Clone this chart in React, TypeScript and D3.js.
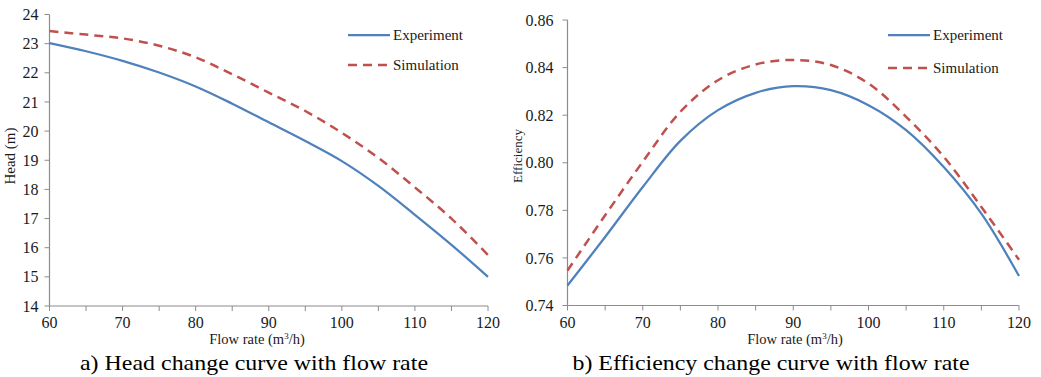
import React from "react";
import * as d3 from "d3";

const flow = [60, 65, 70, 75, 80, 85, 90, 95, 100, 105, 110, 115, 120];
const headExp = [23.02, 22.74, 22.41, 22.01, 21.53, 20.94, 20.3, 19.66, 18.97, 18.12, 17.13, 16.1, 15.0];
const headSim = [23.43, 23.31, 23.18, 22.93, 22.53, 21.95, 21.32, 20.69, 19.94, 19.08, 18.07, 17.0, 15.75];
const effExp = [0.7484, 0.7688, 0.7898, 0.8092, 0.8221, 0.8294, 0.8322, 0.8305, 0.8242, 0.8137, 0.7982, 0.7786, 0.7524];
const effSim = [0.7547, 0.7779, 0.8004, 0.8214, 0.8347, 0.8413, 0.8432, 0.8411, 0.8333, 0.8193, 0.8025, 0.7814, 0.7592];

const xTickLabels = [60, 70, 80, 90, 100, 110, 120];
const xMinorTicks = [60, 65, 70, 75, 80, 85, 90, 95, 100, 105, 110, 115, 120];
const headTicks = [14, 15, 16, 17, 18, 19, 20, 21, 22, 23, 24];
const effTicks = [0.74, 0.76, 0.78, 0.8, 0.82, 0.84, 0.86];
const seriesNames = ["Experiment", "Simulation"];

const BLUE = "#4F81BD";
const RED = "#C0504D";
const AXIS = "#8c8c8c";
const FONT = "Liberation Serif, Times New Roman, serif";

type PanelProps = {
  x0: number; x1: number; yTop: number; yBot: number;
  yDomain: [number, number]; yTicks: number[]; fmt: (v: number) => string;
  labelGap: number;
  exp: number[]; sim: number[];
  yTitle: string; yTitleX: number; yTitleY: number; yTitleSize: number;
  xTitleX: number; caption: string; captionX: number; captionLen: number;
  legX: number; legY1: number; legY2: number;
};

function Panel(p: PanelProps) {
  const x = d3.scaleLinear().domain([60, 120]).range([p.x0, p.x1]);
  const y = d3.scaleLinear().domain(p.yDomain).range([p.yBot, p.yTop]);
  const line = d3.line<number>()
    .x((_, i) => x(flow[i]))
    .y((d) => y(d))
    .curve(d3.curveCatmullRom.alpha(0.5));
  return (
    <g style={{ fontFamily: FONT }} fill="#1a1a1a">
      <line x1={p.x0} x2={p.x0} y1={y(p.yDomain[1])} y2={p.yBot} stroke={AXIS} strokeWidth={1.2} />
      <line x1={p.x0} x2={p.x1} y1={p.yBot} y2={p.yBot} stroke={AXIS} strokeWidth={1.2} />
      {p.yTicks.map((t) => (
        <g key={"y" + t}>
          <line x1={p.x0 - 5} x2={p.x0} y1={y(t)} y2={y(t)} stroke={AXIS} strokeWidth={1} />
          <text x={p.x0 - p.labelGap} y={y(t)} dy="0.35em" textAnchor="end" fontSize={16}>{p.fmt(t)}</text>
        </g>
      ))}
      {xMinorTicks.map((t) => (
        <line key={"xm" + t} x1={x(t)} x2={x(t)} y1={p.yBot} y2={p.yBot + 5} stroke={AXIS} strokeWidth={1} />
      ))}
      {xTickLabels.map((t) => (
        <text key={"x" + t} x={x(t)} y={p.yBot + 22} textAnchor="middle" fontSize={16}>{t}</text>
      ))}
      <text x={p.xTitleX} y={p.yBot + 38} textAnchor="middle" fontSize={14.5}>
        Flow rate (m<tspan dy={-5} fontSize={9}>3</tspan><tspan dy={5}>/h)</tspan>
      </text>
      <text transform={`translate(${p.yTitleX},${p.yTitleY}) rotate(-90)`} textAnchor="middle" fontSize={p.yTitleSize}>{p.yTitle}</text>
      <path d={line(p.exp) || ""} fill="none" stroke={BLUE} strokeWidth={2.25} />
      <path d={line(p.sim) || ""} fill="none" stroke={RED} strokeWidth={2.5} strokeDasharray="9,6" />
      <line x1={p.legX} x2={p.legX + 42} y1={p.legY1} y2={p.legY1} stroke={BLUE} strokeWidth={2.25} />
      <text x={p.legX + 45} y={p.legY1} dy="0.35em" fontSize={15}>{seriesNames[0]}</text>
      <line x1={p.legX} x2={p.legX + 42} y1={p.legY2} y2={p.legY2} stroke={RED} strokeWidth={2.5} strokeDasharray="9,6" />
      <text x={p.legX + 45} y={p.legY2} dy="0.35em" fontSize={15}>{seriesNames[1]}</text>
      <text x={p.captionX} y={370} textAnchor="middle" fontSize={21} fill="#000"
        textLength={p.captionLen} lengthAdjust="spacingAndGlyphs">{p.caption}</text>
    </g>
  );
}

export default function App() {
  return (
    <svg width={1041} height={377} style={{ position: "absolute", left: 0, top: 0, background: "#fff" }}>
      <rect width={1041} height={377} fill="#fff" />
      <Panel
        x0={49.5} x1={488} yTop={14.5} yBot={306}
        yDomain={[14, 24]} yTicks={headTicks} fmt={(v) => String(v)} labelGap={11}
        exp={headExp} sim={headSim}
        yTitle="Head (m)" yTitleX={15} yTitleY={156} yTitleSize={15}
        xTitleX={257} caption="a) Head change curve with flow rate" captionX={254} captionLen={348}
        legX={348} legY1={35} legY2={65}
      />
      <Panel
        x0={567.5} x1={1019} yTop={20} yBot={305.5}
        yDomain={[0.74, 0.86]} yTicks={effTicks} fmt={(v) => v.toFixed(2)} labelGap={14}
        exp={effExp} sim={effSim}
        yTitle="Efficiency" yTitleX={522} yTitleY={156} yTitleSize={13}
        xTitleX={795} caption="b) Efficiency change curve with flow rate" captionX={771} captionLen={397}
        legX={888} legY1={35} legY2={68}
      />
    </svg>
  );
}
